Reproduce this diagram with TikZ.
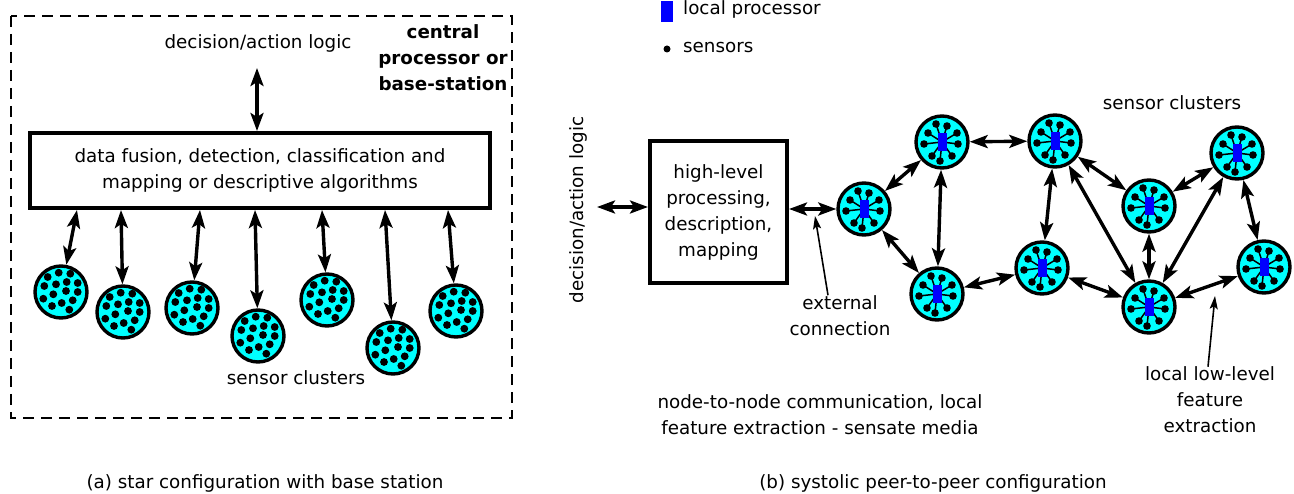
\documentclass[tikz,border=0pt]{standalone}
\usepackage{fontspec}
\setmainfont{DejaVu Sans}
\usetikzlibrary{arrows.meta}
\definecolor{clcyan}{RGB}{0,255,255}
\definecolor{clblue}{RGB}{0,0,255}
\begin{document}
\begin{tikzpicture}[x=1pt,y=-1pt,
  txt/.style={font=\fontsize{18.3}{26}\selectfont, inner sep=0pt, align=center},
  boxnode/.style={draw, line width=4pt, inner sep=0pt},
  dbl/.style={line width=3.4pt, {Stealth[length=18pt,width=13pt,inset=4pt]}-{Stealth[length=18pt,width=13pt,inset=4pt]}},
  thinarr/.style={line width=1.6pt, -{Stealth[length=13pt,width=8pt,inset=2.5pt]}},
  starcl/.style={circle, draw, line width=3.4pt, fill=clcyan, minimum size=52pt, inner sep=0pt},
  peercl/.style={circle, draw, line width=3.4pt, fill=clcyan, minimum size=52pt, inner sep=0pt},
  spoke/.style={line width=1.5pt},
]
\useasboundingbox (0,0) rectangle (1294,494);

% ---------- (a) star configuration ----------
\draw[line width=2.5pt, dash pattern=on 11pt off 7pt] (11,16) rectangle (512,418);

\node[txt] (dal1) at (258,43) {decision/action logic};
\node[txt, font=\fontsize{18.3}{26}\selectfont\bfseries] (cp) at (443,58) {central\\processor or\\base-station};

\node[boxnode, txt, minimum width=460pt, minimum height=75pt] (fus) at (260,170.5)
  {data fusion, detection, classification and\\mapping or descriptive algorithms};

\coordinate (dtop) at (257,68);
\draw[dbl] (fus.north -| dtop) -- (dtop);

\foreach \i/\x/\y/\tx in {1/61/292/77, 2/123/312/121, 3/192/308/200, 4/258/336/255,
                          5/327/300/322, 6/393/348/385, 7/456/311/448} {
  \node[starcl] (s\i) at (\x,\y) {};
  \begin{scope}[shift={(\x,\y)}]
    \foreach \dx/\dy in {-13.3/-15, -2.3/-19.3, 9.3/-18.3, -16.7/-6, -5/-7.7, 5.7/-10,
                         16.7/-9, 5/-1, 16.7/0, -17.7/6.7, -7.7/2.3, 11.7/8.3,
                         -9/14, 0.7/11, 8.3/17.7}
      \fill (\dx,\dy) circle (3.9pt);
  \end{scope}
  \coordinate (t\i) at (\tx,210);
  \draw[dbl] (t\i) -- (s\i);
}

\node[txt] (scl1) at (296,378) {sensor clusters};
\node[txt] (capa) at (265,483) {(a) star configuration with base station};

% ---------- (b) systolic peer-to-peer ----------
\node[fill=clblue, minimum width=12pt, minimum height=21pt, inner sep=0pt] (lp) at (667,11.5) {};
\node[txt, anchor=base west] (lpt) at (683,15) {local processor};
\node[circle, fill=black, inner sep=0pt, minimum size=7pt] (sd) at (667,49) {};
\node[txt, anchor=base west] (sdt) at (683,53) {sensors};

\node[txt, rotate=90] (dal2) at (578,210) {decision/action logic};
\node[boxnode, txt, minimum width=137pt, minimum height=142pt] (hl) at (718.5,212)
  {high-level\\processing,\\description,\\mapping};
\coordinate (dl) at (597,207);
\draw[dbl] (dl) -- (hl.west |- dl);

\foreach \n/\x/\y in {A/864/209, B/942/142, C/1055/141, D/1237/153, E/1149/206,
                      F/937/294, G/1042/268, H/1149/307, I/1264/267} {
  \node[peercl] (\n) at (\x,\y) {};
  \begin{scope}[shift={(\x,\y)}]
    \foreach \dx/\dy in {-6/-18, 5/-16, -14/-9, -18/2, 15/-9, 16/2, -10/14, -2/19, 10/14} {
      \draw[spoke] (0,0) -- (\dx,\dy);
      \fill (\dx,\dy) circle (3.8pt);
    }
    \fill[clblue] (-4.5,-9) rectangle (4.5,9);
  \end{scope}
}

\draw[dbl] (hl.east |- A) -- (A);
\foreach \a/\b in {A/B, A/F, B/C, B/F, C/G, C/E, C/H, E/D, E/H, D/H, D/I, F/G, G/H, H/I}
  \draw[dbl] (\a) -- (\b);

\node[txt] (ext) at (840,315.5) {external\\connection};
\coordinate (ectip) at (815,216);
\draw[thinarr] ([xshift=-12pt]ext.north) -- (ectip);

\node[txt] (scl2) at (1172,103) {sensor clusters};

\node[txt] (llf) at (1210,400) {local low-level\\feature\\extraction};
\coordinate (lltip) at (1215,296);
\draw[thinarr] ([xshift=-2pt]llf.north) -- (lltip);

\node[txt] (n2n) at (820,415) {node-to-node communication, local\\feature extraction - sensate media};
\node[txt] (capb) at (933,483) {(b) systolic peer-to-peer configuration};
\end{tikzpicture}
\end{document}
